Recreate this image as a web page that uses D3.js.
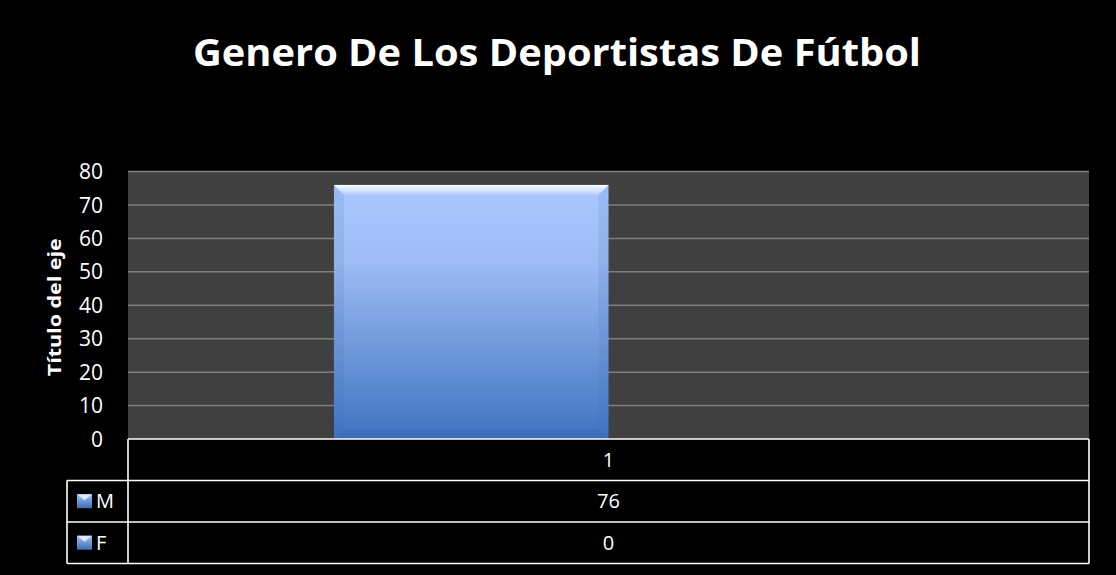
<!DOCTYPE html>
<html>
<head>
<meta charset="utf-8">
<script src="https://cdn.jsdelivr.net/npm/d3@7"></script>
<style>
  html, body { margin: 0; padding: 0; background: #000; }
  svg { display: block; }
  text { font-family: "Open Sans", "Noto Sans", sans-serif; fill: #fff; }
</style>
</head>
<body>
<svg id="chart" width="1116" height="575"></svg>
<script>
// Chart data
const title = "Genero De Los Deportistas De Fútbol";
const yAxisTitle = "Título del eje";
const categories = ["1"];
const seriesNames = ["M", "F"];
const valuesM = [76];
const valuesF = [0];
const yTicks = [0, 10, 20, 30, 40, 50, 60, 70, 80];

const series = [
  { name: seriesNames[0], values: valuesM },
  { name: seriesNames[1], values: valuesF }
];

const W = 1116, H = 575;
const plot = { left: 128, right: 1089, top: 171.5, bottom: 439 };
const table = { rowH: 41.5, legendLeft: 67 };

const svg = d3.select("#chart");
svg.append("rect").attr("width", W).attr("height", H).attr("fill", "#000");

const defs = svg.append("defs");
const grad = defs.append("linearGradient").attr("id", "barGrad")
  .attr("x1", 0).attr("y1", 0).attr("x2", 0).attr("y2", 1);
grad.append("stop").attr("offset", "0%").attr("stop-color", "#abc9ff");
grad.append("stop").attr("offset", "30%").attr("stop-color", "#9dbcf4");
grad.append("stop").attr("offset", "100%").attr("stop-color", "#3f74c0");

const hiGrad = defs.append("linearGradient").attr("id", "hiGrad")
  .attr("x1", 0).attr("y1", 0).attr("x2", 0).attr("y2", 1);
hiGrad.append("stop").attr("offset", "0%").attr("stop-color", "#ffffff").attr("stop-opacity", 0.95);
hiGrad.append("stop").attr("offset", "100%").attr("stop-color", "#ffffff").attr("stop-opacity", 0.1);

const keyGrad = defs.append("linearGradient").attr("id", "keyGrad")
  .attr("x1", 0).attr("y1", 0).attr("x2", 0).attr("y2", 1);
keyGrad.append("stop").attr("offset", "0%").attr("stop-color", "#9fc0f5");
keyGrad.append("stop").attr("offset", "100%").attr("stop-color", "#3d6db3");

// Title
svg.append("text")
  .attr("x", 557).attr("y", 66)
  .attr("text-anchor", "middle")
  .attr("font-size", 37).attr("font-weight", "bold")
  .attr("textLength", 728).attr("lengthAdjust", "spacingAndGlyphs")
  .text(title);

// Scales
const y = d3.scaleLinear().domain([0, 80]).range([plot.bottom, plot.top]);
const x0 = d3.scaleBand().domain(categories).range([plot.left, plot.right]).paddingInner(0).paddingOuter(0);
const gapRatio = 1.5; // gap between groups relative to one bar
const barW = x0.bandwidth() / (series.length + gapRatio);
const x1 = d3.scaleBand().domain(seriesNames)
  .range([barW * gapRatio / 2, barW * gapRatio / 2 + barW * series.length]);

// Plot area
svg.append("rect")
  .attr("x", plot.left).attr("y", plot.top)
  .attr("width", plot.right - plot.left).attr("height", plot.bottom - plot.top)
  .attr("fill", "#404040");

// Gridlines
svg.append("g").selectAll("line")
  .data(yTicks.filter(d => d > 0))
  .join("line")
  .attr("x1", plot.left).attr("x2", plot.right)
  .attr("y1", d => y(d)).attr("y2", d => y(d))
  .attr("stroke", "#7f7f7f").attr("stroke-width", 1.5);

// Y axis labels
const yAxis = d3.axisLeft(y).tickValues(yTicks).tickSize(0).tickPadding(0);
const gy = svg.append("g").attr("transform", `translate(${plot.left - 25},0)`).call(yAxis);
gy.select(".domain").remove();
gy.selectAll("text").attr("font-size", 21).attr("fill", "#fff")
  .style("font-family", '"Open Sans", sans-serif').attr("dy", "0.34em");

// Axis title
svg.append("text")
  .attr("transform", `translate(61,${(plot.top + plot.bottom) / 2 + 2}) rotate(-90)`)
  .attr("text-anchor", "middle")
  .attr("font-size", 18).attr("font-weight", "bold")
  .attr("textLength", 138).attr("lengthAdjust", "spacingAndGlyphs")
  .text(yAxisTitle);

// Bars
const groups = svg.append("g").selectAll("g")
  .data(categories)
  .join("g")
  .attr("transform", c => `translate(${x0(c)},0)`);

groups.each(function (c, ci) {
  const g = d3.select(this);
  series.forEach(s => {
    const v = s.values[ci];
    const bx = x1(s.name), bw = x1.bandwidth();
    const top = y(v), h = plot.bottom - top;
    if (h <= 0) return;
    g.append("rect").attr("x", bx).attr("y", top).attr("width", bw).attr("height", h)
      .attr("fill", "url(#barGrad)");
    const b = Math.min(10, h / 2);
    // bevel: top highlight
    g.append("path")
      .attr("d", `M${bx},${top}L${bx + bw},${top}L${bx + bw - b},${top + b}L${bx + b},${top + b}Z`)
      .attr("fill", "url(#hiGrad)");
    // bevel: sides
    g.append("path")
      .attr("d", `M${bx},${top}L${bx + b},${top + b}L${bx + b},${top + h - b}L${bx},${top + h}Z`)
      .attr("fill", "#3a6ab5").attr("opacity", 0.14);
    g.append("path")
      .attr("d", `M${bx + bw},${top}L${bx + bw - b},${top + b}L${bx + bw - b},${top + h - b}L${bx + bw},${top + h}Z`)
      .attr("fill", "#3a6ab5").attr("opacity", 0.14);
    // bevel: bottom
    g.append("path")
      .attr("d", `M${bx},${top + h}L${bx + b},${top + h - b}L${bx + bw - b},${top + h - b}L${bx + bw},${top + h}Z`)
      .attr("fill", "#2a5aa0").attr("opacity", 0.2);
  });
});

// Data table
const tg = svg.append("g");
const rows = [{ label: null, vals: categories }]
  .concat(series.map(s => ({ label: s.name, vals: s.values.map(String) })));
const tableBottom = plot.bottom + table.rowH * rows.length;

tg.append("line").attr("x1", plot.left).attr("x2", plot.left)
  .attr("y1", plot.bottom).attr("y2", tableBottom);
tg.append("line").attr("x1", plot.right).attr("x2", plot.right)
  .attr("y1", plot.bottom).attr("y2", tableBottom);
tg.append("line").attr("x1", table.legendLeft).attr("x2", table.legendLeft)
  .attr("y1", plot.bottom + table.rowH).attr("y2", tableBottom);
rows.forEach((r, i) => {
  const yy = plot.bottom + table.rowH * i;
  tg.append("line").attr("x1", i === 0 ? plot.left : table.legendLeft).attr("x2", plot.right)
    .attr("y1", yy).attr("y2", yy);
});
tg.append("line").attr("x1", table.legendLeft).attr("x2", plot.right)
  .attr("y1", tableBottom).attr("y2", tableBottom);
tg.selectAll("line").attr("stroke", "#ffffff").attr("stroke-width", 1.6);

rows.forEach((r, i) => {
  const cy = plot.bottom + table.rowH * i + table.rowH / 2;
  r.vals.forEach((v, ci) => {
    tg.append("text")
      .attr("x", x0(categories[ci]) + x0.bandwidth() / 2)
      .attr("y", cy).attr("dy", "0.36em")
      .attr("text-anchor", "middle").attr("font-size", 20)
      .text(v);
  });
  if (r.label) {
    const kx = 77, ky = cy - 7, ks = 15;
    tg.append("rect").attr("x", kx).attr("y", ky).attr("width", ks).attr("height", ks - 1)
      .attr("fill", "url(#keyGrad)");
    tg.append("path")
      .attr("d", `M${kx},${ky}L${kx + ks},${ky}L${kx + ks / 2},${ky + 6}Z`)
      .attr("fill", "#e3efff").attr("opacity", 0.9);
    tg.append("text")
      .attr("x", 96).attr("y", cy).attr("dy", "0.36em")
      .attr("font-size", 20)
      .text(r.label);
  }
});
</script>
</body>
</html>
